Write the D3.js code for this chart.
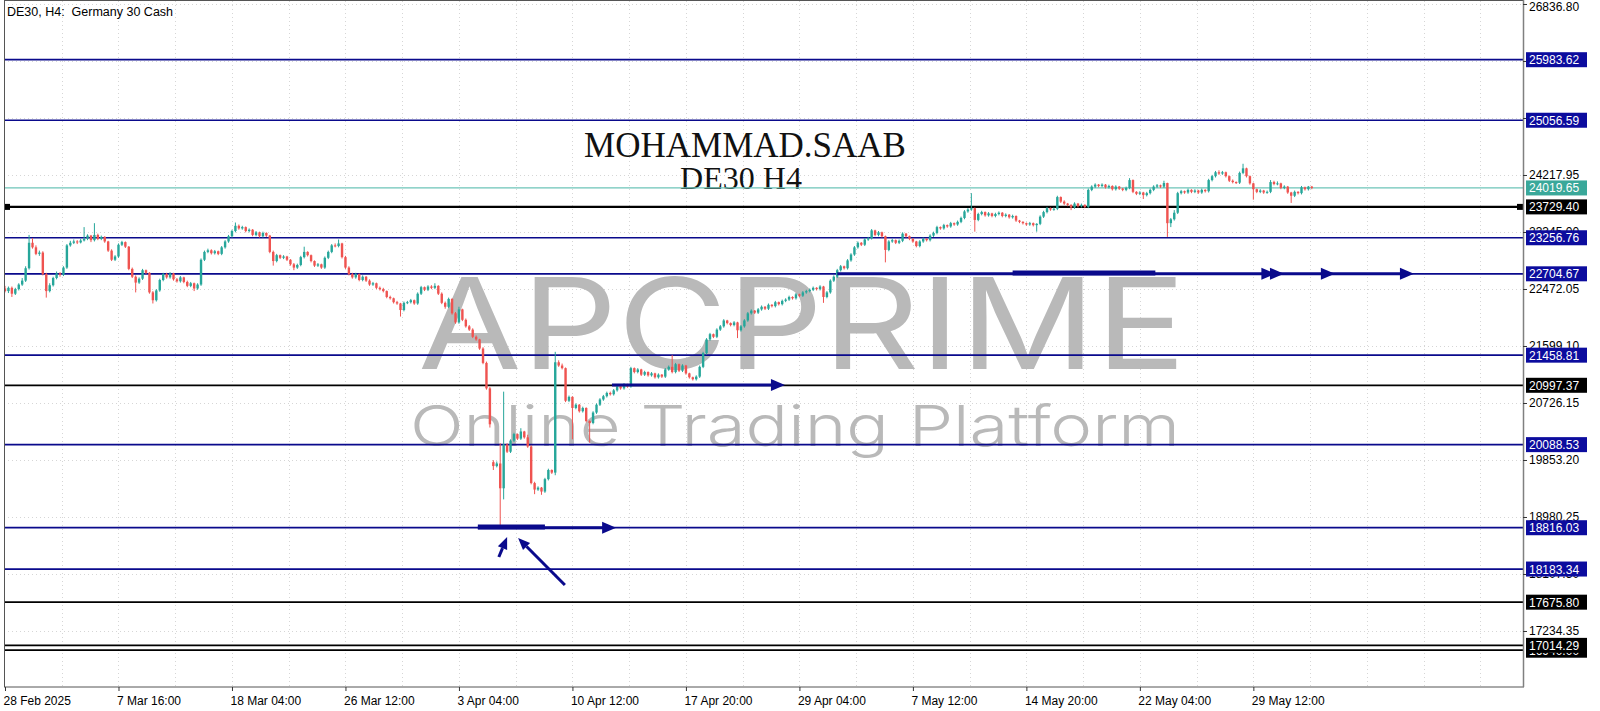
<!DOCTYPE html>
<html><head><meta charset="utf-8">
<script src="https://cdn.jsdelivr.net/npm/d3@7"></script>
<style>body{margin:0;background:#fff;overflow:hidden}svg{display:block}</style>
</head><body>
<script>
// OHLC per H4 bar
const candles = [
[22480,22520,22420,22440],[22440,22510,22410,22490],[22490,22510,22350,22400],[22400,22490,22380,22470],[22470,22560,22450,22540],
[22540,22640,22520,22600],[22600,22820,22580,22790],[22790,23300,22770,23180],[23180,23250,23090,23110],[23110,23140,22990,23010],
[23010,23060,22980,23030],[23030,23050,22680,22700],[22700,22720,22340,22440],[22440,22560,22420,22530],[22530,22660,22510,22640],
[22640,22740,22620,22710],[22710,22730,22660,22690],[22690,22820,22670,22800],[22800,23160,22780,23140],[23140,23210,23120,23180],
[23180,23230,23160,23200],[23200,23220,23160,23185],[23185,23240,23170,23215],[23215,23420,23200,23240],[23240,23310,23220,23290],
[23290,23300,23190,23220],[23220,23480,23200,23300],[23300,23320,23220,23240],[23240,23290,23220,23270],[23270,23280,23180,23200],
[23200,23210,23040,23060],[23060,23080,22900,22920],[22920,22990,22900,22970],[22970,23170,22950,23150],[23150,23210,23130,23190],
[23190,23200,23100,23120],[23120,23130,22760,22780],[22780,22800,22640,22660],[22660,22680,22420,22570],[22570,22650,22550,22630],
[22630,22780,22610,22760],[22760,22770,22700,22720],[22720,22730,22400,22420],[22420,22440,22250,22300],[22300,22470,22280,22450],
[22450,22630,22430,22610],[22610,22720,22590,22700],[22700,22720,22630,22650],[22650,22730,22630,22710],[22710,22720,22600,22620],
[22620,22640,22570,22590],[22590,22670,22570,22650],[22650,22660,22560,22580],[22580,22600,22500,22520],[22520,22580,22500,22560],
[22560,22570,22440,22480],[22480,22560,22460,22540],[22540,22940,22520,22920],[22920,23060,22900,23040],[23040,23090,23020,23065],
[23065,23080,23000,23020],[23020,23070,23000,23050],[23050,23060,22990,23010],[23010,23130,22990,23110],[23110,23220,23090,23200],
[23200,23300,23180,23280],[23280,23380,23260,23360],[23360,23490,23340,23440],[23440,23460,23380,23400],[23400,23440,23380,23420],
[23420,23430,23340,23360],[23360,23400,23340,23380],[23380,23390,23280,23300],[23300,23360,23280,23340],[23340,23350,23260,23280],
[23280,23350,23260,23330],[23330,23340,23270,23290],[23290,23300,23020,23040],[23040,23060,22830,22900],[22900,23010,22880,22990],
[22990,23000,22930,22950],[22950,22990,22930,22970],[22970,22980,22900,22920],[22920,22930,22830,22850],[22850,22870,22760,22800],
[22800,22860,22780,22840],[22840,22980,22820,22960],[22960,23120,22940,23040],[23040,23050,22970,22990],[22990,23000,22880,22900],
[22900,22910,22810,22830],[22830,22870,22810,22850],[22850,22860,22780,22800],[22800,22970,22780,22950],[22950,23060,22930,23040],
[23040,23160,23020,23140],[23140,23170,23110,23130],[23130,23230,23110,23170],[23170,23180,22940,22960],[22960,22980,22780,22800],
[22800,22820,22680,22700],[22700,22720,22630,22650],[22650,22720,22630,22700],[22700,22710,22590,22610],[22610,22680,22590,22660],
[22660,22670,22580,22600],[22600,22620,22520,22540],[22540,22580,22520,22560],[22560,22570,22470,22490],[22490,22510,22450,22470],
[22470,22490,22420,22440],[22440,22450,22330,22350],[22350,22370,22310,22330],[22330,22340,22250,22270],[22270,22290,22230,22250],
[22250,22260,22050,22150],[22150,22280,22130,22260],[22260,22290,22240,22270],[22270,22320,22250,22300],[22300,22310,22230,22250],
[22250,22420,22230,22400],[22400,22520,22380,22500],[22500,22510,22440,22460],[22460,22530,22440,22510],[22510,22530,22470,22490],
[22490,22560,22470,22520],[22520,22530,22380,22400],[22400,22420,22240,22260],[22260,22280,22170,22200],[22200,22340,22180,22320],
[22320,22330,22080,22100],[22100,22120,21940,21960],[21960,22200,21940,22160],[22160,22170,21980,22000],[22000,22020,21880,21900],
[21900,21920,21830,21850],[21850,21870,21720,21740],[21740,21760,21680,21700],[21700,21710,21540,21560],[21560,21580,21320,21340],
[21340,21360,20930,20950],[20950,20970,20350,20400],[19820,19850,19700,19760],[19760,19830,19740,19800],[19800,20110,18816,19420],
[19420,20900,19250,20090],[20090,20110,19960,19980],[19980,20170,19960,20150],[20150,20270,20130,20250],[20250,20260,20160,20180],
[20180,20340,20160,20290],[20290,20300,20180,20200],[20200,20240,20040,20060],[20060,20080,19480,19500],[19500,19520,19330,19400],
[19400,19450,19380,19430],[19430,19440,19320,19370],[19370,19580,19350,19560],[19560,19720,19540,19700],[19700,19710,19640,19660],
[19660,21510,19620,21350],[21350,21380,21280,21300],[21300,21330,21240,21260],[21260,21270,20740,20760],[20760,20840,20740,20820],
[20820,20830,20170,20650],[20650,20720,20630,20700],[20700,20710,20580,20600],[20600,20670,20580,20650],[20650,20660,20430,20450],
[20450,20460,20120,20420],[20420,20600,20400,20580],[20580,20720,20560,20700],[20700,20800,20680,20780],[20780,20850,20760,20830],
[20830,20900,20810,20880],[20880,20900,20840,20860],[20860,20940,20840,20920],[20920,21000,20900,20980],[20980,20990,20930,20950],
[20950,21030,20930,21010],[21010,21020,20960,20980],[20980,21280,20960,21260],[21260,21270,21180,21200],[21200,21260,21180,21240],
[21240,21250,21140,21160],[21160,21220,21140,21200],[21200,21210,21130,21150],[21150,21200,21130,21180],[21180,21190,21100,21120],
[21120,21180,21100,21160],[21160,21170,21110,21130],[21130,21260,21110,21240],[21240,21300,21220,21280],[21280,21460,21180,21200],
[21200,21340,21180,21320],[21320,21330,21200,21220],[21220,21320,21200,21300],[21300,21310,21160,21180],[21180,21190,21100,21120],
[21120,21130,21070,21090],[21090,21150,21070,21130],[21130,21300,21110,21280],[21280,21510,21260,21490],[21490,21720,21470,21700],
[21700,21800,21680,21780],[21780,21790,21720,21740],[21740,21870,21720,21850],[21850,21920,21830,21900],[21900,22010,21880,21990],
[21990,22000,21930,21950],[21950,21960,21900,21920],[21920,21980,21900,21960],[21960,21970,21720,21840],[21840,21920,21820,21900],
[21900,22010,21880,21990],[21990,22120,21970,22100],[22100,22160,22080,22140],[22140,22150,22090,22110],[22110,22180,22090,22160],
[22160,22220,22140,22200],[22200,22210,22150,22170],[22170,22250,22150,22230],[22230,22240,22190,22210],[22210,22290,22190,22270],
[22270,22280,22220,22240],[22240,22310,22220,22290],[22290,22330,22270,22310],[22310,22370,22290,22350],[22350,22360,22310,22330],
[22330,22410,22310,22390],[22390,22400,22350,22370],[22370,22440,22350,22420],[22420,22460,22400,22440],[22440,22480,22420,22460],
[22460,22510,22440,22490],[22490,22500,22450,22470],[22470,22530,22450,22510],[22510,22520,22260,22350],[22350,22440,22330,22420],
[22420,22620,22400,22600],[22600,22680,22580,22660],[22660,22780,22640,22760],[22760,22840,22740,22820],[22820,22830,22770,22790],
[22790,22930,22770,22910],[22910,23020,22890,23000],[23000,23130,22980,23110],[23110,23200,23090,23180],[23180,23190,23130,23150],
[23150,23250,23130,23230],[23230,23270,23210,23250],[23250,23390,23230,23370],[23370,23380,23280,23300],[23300,23360,23280,23340],
[23340,23350,23260,23280],[23280,23290,22880,23070],[23070,23220,23050,23200],[23200,23240,23180,23220],[23220,23230,23160,23180],
[23180,23230,23160,23210],[23210,23340,23190,23320],[23320,23330,23260,23280],[23280,23290,23220,23240],[23240,23250,23180,23200],
[23200,23210,23110,23130],[23130,23220,23110,23200],[23200,23260,23180,23240],[23240,23250,23200,23220],[23220,23310,23200,23290],
[23290,23350,23270,23330],[23330,23440,23310,23420],[23420,23430,23380,23400],[23400,23470,23380,23450],[23450,23460,23410,23430],
[23430,23500,23410,23480],[23480,23490,23440,23460],[23460,23520,23440,23500],[23500,23580,23480,23560],[23560,23680,23540,23660],
[23660,23710,23640,23690],[23690,23940,23670,23710],[23710,23720,23350,23530],[23530,23640,23510,23620],[23620,23670,23600,23650],
[23650,23660,23580,23600],[23600,23650,23580,23630],[23630,23640,23570,23590],[23590,23640,23570,23620],[23620,23660,23600,23640],
[23640,23650,23570,23590],[23590,23630,23570,23610],[23610,23620,23550,23570],[23570,23610,23550,23590],[23590,23600,23500,23520],
[23520,23530,23480,23500],[23500,23510,23460,23480],[23480,23490,23440,23460],[23460,23500,23440,23480],[23480,23490,23430,23450],
[23450,23480,23350,23470],[23470,23600,23450,23580],[23580,23670,23560,23650],[23650,23730,23630,23710],[23710,23720,23670,23690],
[23690,23720,23670,23700],[23700,23900,23680,23880],[23880,23890,23790,23810],[23810,23830,23760,23780],[23780,23790,23740,23760],
[23760,23770,23680,23720],[23720,23800,23700,23780],[23780,23790,23720,23740],[23740,23780,23720,23760],[23760,23770,23710,23730],
[23730,24010,23710,23990],[23990,24060,23970,24040],[24040,24090,24020,24070],[24070,24080,24030,24050],[24050,24090,24030,24070],
[24070,24080,24010,24030],[24030,24070,24010,24050],[24050,24060,23980,24000],[24000,24060,23980,24040],[24040,24050,23990,24010],
[24010,24020,23970,23990],[23990,24040,23970,24020],[24020,24170,24000,24140],[24140,24150,23940,23960],[23960,23970,23910,23930],
[23930,23970,23910,23950],[23950,23960,23850,23910],[23910,23960,23890,23940],[23940,24010,23920,23990],[23990,24060,23970,24040],
[24040,24080,24020,24060],[24060,24070,24020,24040],[24040,24130,24020,24095],[24095,24100,23270,23480],[23480,23560,23420,23540],
[23540,23680,23520,23640],[23640,23960,23620,23940],[23940,23990,23920,23970],[23970,23980,23930,23950],[23950,24010,23930,23990],
[23990,24000,23940,23960],[23960,24000,23940,23980],[23980,23990,23930,23950],[23950,24010,23930,23990],[23990,24000,23950,23970],
[23970,24160,23950,24140],[24140,24220,24120,24200],[24200,24280,24180,24260],[24260,24290,24220,24240],[24240,24280,24220,24260],
[24260,24270,24180,24200],[24200,24210,24110,24130],[24130,24150,24090,24110],[24110,24120,24080,24100],[24100,24270,24080,24250],
[24250,24390,24230,24320],[24320,24330,24180,24200],[24200,24210,24070,24090],[24090,24100,23840,24000],[24000,24010,23940,23960],
[23960,24000,23940,23980],[23980,23990,23930,23950],[23950,23980,23930,23960],[23960,24140,23940,24110],[24110,24130,24060,24080],
[24080,24120,24060,24090],[24090,24100,24000,24020],[24020,24060,24000,24040],[24040,24050,23930,23950],[23950,23960,23790,23900],
[23900,23980,23880,23960],[23960,23970,23920,23940],[23940,24050,23920,24030],[24030,24040,23980,24000],[24000,24050,23980,24040],
[24040,24050,24000,24019.65]
];

const xTickBars = [0,33,66,99,132,165,198,231,264,297,330,363];
const xTickLabels = ["28 Feb 2025","7 Mar 16:00","18 Mar 04:00","26 Mar 12:00","3 Apr 04:00","10 Apr 12:00","17 Apr 20:00","29 Apr 04:00","7 May 12:00","14 May 20:00","22 May 04:00","29 May 12:00"];
const yTicks = [26836.80,25963.85,25090.90,24217.95,23345.00,22472.05,21599.10,20726.15,19853.20,18980.25,18107.30,17234.35];
const blueLevels = [25983.62,25056.59,23256.76,22704.67,21458.81,20088.53,18816.03,18183.34];
const blackLevels = [23729.40,20997.37,17675.80,16940.00,17014.29];
const bidLevel = 24019.65;
// drawn arrows, in [bar, price]
const trendArrowBig = {from:[242,22704.67], to:[409.7,22704.67], heads:[369.4,371.9,386.7,409.7], thick:[293,334.5]};
const trendArrowMid = {from:[176.5,21002], to:[226.8,21002], heads:[226.8]};
const trendArrowLow = {from:[137.5,18816.03], to:[177.7,18816.03], heads:[177.7], thick:[137.5,157]};
const pointerArrows = [{from:[143.6,18367], to:[146,18674]}, {from:[162.8,17939], to:[149.2,18659]}];

const W=1600,H=711, L=4, R=1523, T=1, B=687;
const BLUE="#0a0a8c", LABELBLUE="#0c0c9e", UP="#26a69a", DOWN="#ef5350";
const x = d3.scaleLinear().domain([0,440]).range([5,5+440*3.439]);
const y = d3.scaleLinear().domain([16376.7,26882.7]).range([B,T]);

const svg = d3.select("body").append("svg").attr("width",W).attr("height",H);
svg.append("rect").attr("width",W).attr("height",H).attr("fill","#fff");
svg.append("defs").append("clipPath").attr("id","plot").append("rect")
  .attr("x",L).attr("y",T).attr("width",R-L).attr("height",B-T);

// grid
const grid = svg.append("g").attr("stroke","#d6d6d6").attr("stroke-dasharray","1,3").attr("stroke-width",1);
yTicks.forEach(v=>grid.append("line").attr("x1",L).attr("x2",R).attr("y1",Math.round(y(v))+0.5).attr("y2",Math.round(y(v))+0.5));
const half = (xTickBars[1]-xTickBars[0])/2;
d3.range(0,440,half).forEach(b=>{ if(b>0) grid.append("line").attr("x1",Math.round(x(b))+0.5).attr("x2",Math.round(x(b))+0.5).attr("y1",T).attr("y2",B);});

// watermark
const wm = svg.append("g").attr("fill","#b9b9b9");
wm.append("text").attr("x",418).attr("y",369).attr("font-family","Inter, 'Open Sans', sans-serif").attr("font-weight",400)
  .attr("font-size",126).attr("textLength",768).attr("lengthAdjust","spacingAndGlyphs").text("APCPRIME");
wm.append("text").attr("x",410).attr("y",446).attr("font-family","Inter, 'Open Sans', sans-serif").attr("font-weight",300)
  .attr("font-size",56).attr("textLength",770).attr("lengthAdjust","spacingAndGlyphs").text("Online Trading Platform");

// titles
svg.append("text").attr("x",745).attr("y",157).attr("text-anchor","middle").attr("font-family","'Liberation Serif','Times New Roman',serif")
  .attr("font-size",35).attr("fill","#111").text("MOHAMMAD.SAAB");
svg.append("text").attr("x",741).attr("y",189).attr("text-anchor","middle").attr("font-family","'Liberation Serif','Times New Roman',serif")
  .attr("font-size",32).attr("fill","#111").text("DE30 H4");

const plot = svg.append("g").attr("clip-path","url(#plot)");
// level lines
plot.append("line").attr("x1",L).attr("x2",R).attr("y1",y(bidLevel)).attr("y2",y(bidLevel)).attr("stroke","#6cc4b8").attr("stroke-width",1.2);
blueLevels.forEach(v=>plot.append("line").attr("x1",L).attr("x2",R).attr("y1",y(v)).attr("y2",y(v)).attr("stroke",BLUE).attr("stroke-width",1.7));
blackLevels.forEach(v=>plot.append("line").attr("x1",L).attr("x2",R).attr("y1",y(v)).attr("y2",y(v)).attr("stroke","#000").attr("stroke-width",v===blackLevels[0]?2.2:1.8));
// selection squares on first black line
[L+3, R-3].forEach(cx=>plot.append("rect").attr("x",cx-3).attr("y",y(blackLevels[0])-3).attr("width",6).attr("height",6).attr("fill","#000"));

// candles
const cg = plot.append("g");
candles.forEach((c,i)=>{
  const [o,h,l,cl]=c, col = cl>=o?UP:DOWN, cx = x(i);
  cg.append("line").attr("x1",cx).attr("x2",cx).attr("y1",y(h)).attr("y2",y(l)).attr("stroke",col).attr("stroke-width",1);
  const top=y(Math.max(o,cl)), bot=y(Math.min(o,cl));
  cg.append("rect").attr("x",cx-1.2).attr("y",top).attr("width",2.4).attr("height",Math.max(1,bot-top)).attr("fill",col);
});

// arrows
const ag = plot.append("g").attr("fill",BLUE).attr("stroke",BLUE);
function head(tipX,tipY,len,hw){ ag.append("path").attr("stroke","none").attr("d",`M${tipX},${tipY}L${tipX-len},${tipY-hw}L${tipX-len},${tipY+hw}Z`);}
function hline(a,w){
  ag.append("line").attr("x1",x(a.from[0])).attr("x2",x(a.to[0])-8).attr("y1",y(a.from[1])).attr("y2",y(a.to[1])).attr("stroke-width",w);
  if(a.thick) ag.append("line").attr("x1",x(a.thick[0])).attr("x2",x(a.thick[1])).attr("y1",y(a.from[1])-0.8).attr("y2",y(a.from[1])-0.8).attr("stroke-width",w+2);
  a.heads.forEach(hb=>head(x(hb),y(a.from[1]),14,6));
}
hline(trendArrowBig,3);
hline(trendArrowMid,3);
hline(trendArrowLow,3);
pointerArrows.forEach(p=>{
  const x1=x(p.from[0]),y1=y(p.from[1]),x2=x(p.to[0]),y2=y(p.to[1]);
  const ang=Math.atan2(y2-y1,x2-x1), len=12, hw=5;
  const bx=x2-len*Math.cos(ang), by=y2-len*Math.sin(ang);
  ag.append("line").attr("x1",x1).attr("y1",y1).attr("x2",bx).attr("y2",by).attr("stroke-width",3);
  ag.append("path").attr("stroke","none").attr("d",`M${x2},${y2}L${bx+hw*Math.sin(ang)},${by-hw*Math.cos(ang)}L${bx-hw*Math.sin(ang)},${by+hw*Math.cos(ang)}Z`);
});

// frame
svg.append("rect").attr("x",L+0.5).attr("y",T-0.5).attr("width",R-L).attr("height",B-T+0.5).attr("fill","none").attr("stroke","#555").attr("stroke-width",1);
svg.append("line").attr("x1",R+0.5).attr("x2",R+0.5).attr("y1",0).attr("y2",B).attr("stroke","#808080").attr("stroke-width",1.5);

// axes
const FONT="'Liberation Sans', Arial, sans-serif";
const yAxis = svg.append("g").attr("transform",`translate(${R},0)`)
  .call(d3.axisRight(y).tickValues(yTicks).tickSize(4).tickPadding(2).tickFormat(d3.format(".2f")));
yAxis.select(".domain").remove();
yAxis.selectAll("line").attr("stroke","#333");
yAxis.selectAll("text").attr("font-family",FONT).attr("font-size",12).attr("fill","#000");
yAxis.selectAll(".tick").filter(d=>d===yTicks[0]).select("text").attr("dy","0.55em");

const xAxis = svg.append("g").attr("transform",`translate(0,${B})`)
  .call(d3.axisBottom(x).tickValues(xTickBars).tickSize(4).tickFormat((d,i)=>xTickLabels[i]));
xAxis.select(".domain").remove();
xAxis.selectAll("line").attr("stroke","#333");
xAxis.selectAll("text").attr("font-family",FONT).attr("font-size",12).attr("fill","#000")
  .attr("text-anchor","start").attr("dx","-2").attr("dy","0.95em");

// price labels
function priceLabel(v,bg){
  const g=svg.append("g");
  g.append("rect").attr("x",R+3).attr("y",y(v)-7.5).attr("width",61).attr("height",15).attr("fill",bg);
  g.append("text").attr("x",R+6).attr("y",y(v)+4.5).attr("font-family",FONT).attr("font-size",12).attr("fill","#fff").text(d3.format(".2f")(v));
}
blueLevels.forEach(v=>priceLabel(v,LABELBLUE));
blackLevels.forEach(v=>priceLabel(v,"#000"));
priceLabel(bidLevel,"#3aa89a");

// top-left caption
svg.append("text").attr("x",7).attr("y",16).attr("font-family",FONT).attr("font-size",12.5).attr("fill","#000")
  .style("white-space","pre").text("DE30, H4:  Germany 30 Cash");
</script>
</body></html>
